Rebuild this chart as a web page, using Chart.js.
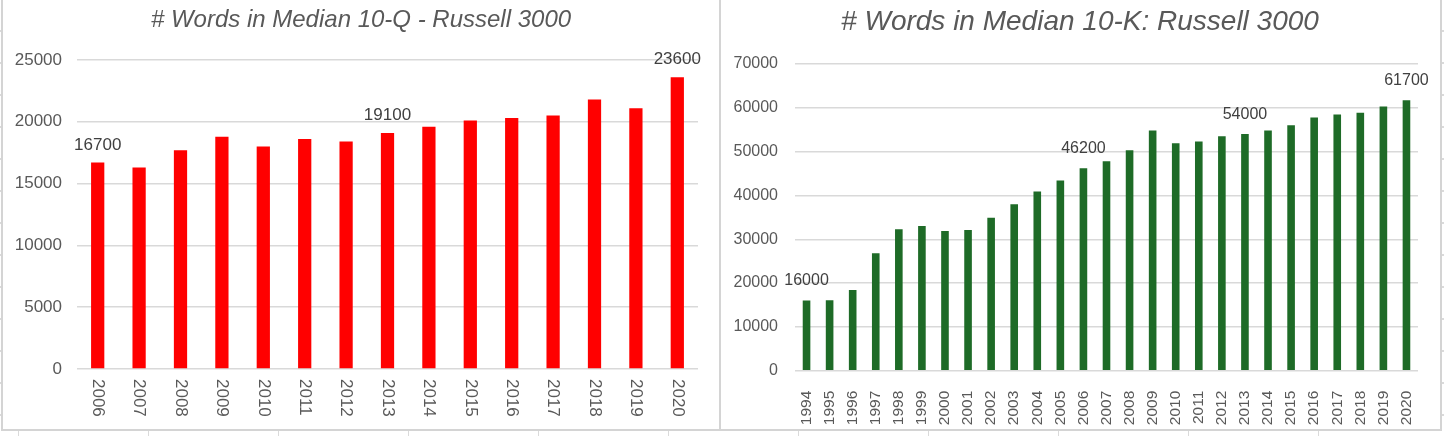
<!DOCTYPE html>
<html>
<head>
<meta charset="utf-8">
<script src="https://cdn.jsdelivr.net/npm/chart.js@4.4.1/dist/chart.umd.min.js"></script>
<style>
    html, body {
        margin: 0;
        padding: 0;
    }
    body {
        width: 1444px;
        height: 436px;
        position: relative;
        overflow: hidden;
        background-color: #ffffff;
        /* spreadsheet cells behind the charts */
        background-image:
            repeating-linear-gradient(90deg, transparent 0 18px, #dadada 18px 19.5px, transparent 19.5px 130px),
            repeating-linear-gradient(180deg, transparent 0 30.5px, #dadada 30.5px 32px);
        background-size: 130px 436px, 1444px 32px;
    }
    .panel {
        position: absolute;
        box-sizing: border-box;
        background: #ffffff;
        border: 2px solid #d4d4d4;
    }
    .chart-box {
        position: absolute;
        top: 0;
        height: 430px;
    }
</style>
</head>
<body>
<div class="panel" style="left:1px; top:-2px; width:720px; height:433px;"></div>
<div class="panel" style="left:719px; top:-2px; width:723px; height:433px;"></div>

<div class="chart-box" style="left:3px; width:716px;"><canvas id="chart10Q"></canvas></div>
<div class="chart-box" style="left:721px; width:718px;"><canvas id="chart10K"></canvas></div>

<script>
// ==========================================
// DATA
// ==========================================
const years10Q = ['2006', '2007', '2008', '2009', '2010', '2011', '2012', '2013',
                  '2014', '2015', '2016', '2017', '2018', '2019', '2020'];
const words10Q = [16700, 16300, 17700, 18800, 18000, 18600, 18400, 19100,
                  19600, 20100, 20300, 20500, 21800, 21100, 23600];
const labeled10Q = ['2006', '2013', '2020'];
const ticks10Q = [0, 5000, 10000, 15000, 20000, 25000];

const years10K = ['1994', '1995', '1996', '1997', '1998', '1999', '2000', '2001', '2002',
                  '2003', '2004', '2005', '2006', '2007', '2008', '2009', '2010', '2011',
                  '2012', '2013', '2014', '2015', '2016', '2017', '2018', '2019', '2020'];
const words10K = [16000, 16100, 18400, 26800, 32300, 33000, 31900, 32100, 34900,
                  38000, 40900, 43400, 46200, 47800, 50300, 54800, 51900, 52300,
                  53500, 54000, 54800, 56000, 57800, 58500, 58900, 60300, 61700];
const labeled10K = ['1994', '2006', '2013', '2020'];
const ticks10K = [0, 10000, 20000, 30000, 40000, 50000, 60000, 70000];

const FONT = '"Liberation Sans", Arial, Helvetica, sans-serif';
const TEXT_GREY = '#595959';
const GRID_GREY = '#d9d9d9';

// ==========================================
// PLUGINS
// ==========================================
// value labels above selected bars
const valueLabels = {
    id: 'valueLabels',
    afterDatasetsDraw(chart, args, opts) {
        const ctx = chart.ctx;
        const meta = chart.getDatasetMeta(0);
        const values = chart.data.datasets[0].data;
        ctx.save();
        ctx.font = `${opts.size}px ${FONT}`;
        ctx.fillStyle = '#404040';
        ctx.textAlign = 'center';
        ctx.textBaseline = 'middle';
        chart.data.labels.forEach((year, i) => {
            if (!opts.years.includes(year)) return;
            const bar = meta.data[i];
            ctx.fillText(String(values[i]), bar.x, bar.y - opts.offset);
        });
        ctx.restore();
    }
};

// category labels reading top-to-bottom (Chart.js only rotates the other way)
const downLabels = {
    id: 'downLabels',
    afterDraw(chart, args, opts) {
        if (!opts.enabled) return;
        const ctx = chart.ctx;
        const xScale = chart.scales.x;
        ctx.save();
        ctx.font = `${opts.size}px ${FONT}`;
        ctx.fillStyle = TEXT_GREY;
        ctx.textAlign = 'left';
        ctx.textBaseline = 'middle';
        chart.data.labels.forEach((year, i) => {
            ctx.save();
            ctx.translate(xScale.getPixelForTick(i), chart.chartArea.bottom + opts.gap);
            ctx.rotate(Math.PI / 2);
            ctx.fillText(year, 0, 0);
            ctx.restore();
        });
        ctx.restore();
    }
};

// ==========================================
// CHART BUILDER
// ==========================================
function buildBarChart(canvasId, cfg) {
    const canvas = document.getElementById(canvasId);
    return new Chart(canvas.getContext('2d'), {
        type: 'bar',
        data: {
            labels: cfg.labels,
            datasets: [{
                data: cfg.values,
                backgroundColor: cfg.color,
                borderWidth: 0,
                barPercentage: cfg.barPct,
                categoryPercentage: 1
            }]
        },
        plugins: [valueLabels, downLabels],
        options: {
            responsive: true,
            maintainAspectRatio: false,
            animation: false,
            layout: { padding: 0 },
            scales: {
                x: {
                    grid: { display: false },
                    border: { display: false },
                    ticks: {
                        display: !cfg.downLabels,
                        autoSkip: false,
                        minRotation: 90,
                        maxRotation: 90,
                        padding: cfg.xPad,
                        color: TEXT_GREY,
                        font: { family: FONT, size: cfg.xFont }
                    },
                    afterFit: scale => { scale.height = cfg.xHeight; }
                },
                y: {
                    min: 0,
                    max: cfg.ticks[cfg.ticks.length - 1],
                    afterBuildTicks: scale => {
                        scale.ticks = cfg.ticks.map(v => ({ value: v }));
                    },
                    grid: { color: GRID_GREY, lineWidth: 1.5, drawTicks: false },
                    border: { display: false },
                    ticks: {
                        padding: cfg.yPad,
                        color: TEXT_GREY,
                        font: { family: FONT, size: cfg.yFont },
                        callback: v => String(v)
                    },
                    afterFit: scale => { scale.width = 74; }
                },
                // empty right-hand box: leaves the margin without shifting the title
                spacer: {
                    type: 'linear',
                    position: 'right',
                    grid: { display: false },
                    border: { display: false },
                    ticks: { display: false },
                    afterFit: scale => { scale.width = 21; }
                }
            },
            plugins: {
                legend: { display: false },
                tooltip: { enabled: false },
                title: {
                    display: true,
                    text: cfg.title,
                    color: TEXT_GREY,
                    font: { family: FONT, size: cfg.titleSize, style: 'italic', weight: 'normal' },
                    padding: cfg.titlePad
                },
                valueLabels: { years: cfg.labeled, size: cfg.labelFont, offset: cfg.labelOffset },
                downLabels: { enabled: cfg.downLabels, size: cfg.xFont, gap: 10 }
            }
        }
    });
}

buildBarChart('chart10Q', {
    title: '# Words in Median 10-Q - Russell 3000',
    labels: years10Q,
    values: words10Q,
    labeled: labeled10Q,
    ticks: ticks10Q,
    color: '#ff0000',
    barPct: 0.32,
    titleSize: 24,
    titlePad: { top: 5.6, bottom: 25.6 },
    xHeight: 61,
    xPad: 10,
    xFont: 17,
    yFont: 17,
    yPad: 15,
    labelFont: 17,
    labelOffset: 17.5,
    downLabels: true
});

buildBarChart('chart10K', {
    title: '# Words in Median 10-K: Russell 3000',
    labels: years10K,
    values: words10K,
    labeled: labeled10K,
    ticks: ticks10K,
    color: '#1e6b27',
    barPct: 0.33,
    titleSize: 28,
    titlePad: { top: 5.2, bottom: 25.2 },
    xHeight: 59.3,
    xPad: 12,
    xFont: 15.5,
    yFont: 16,
    yPad: 17,
    labelFont: 16,
    labelOffset: 20,
    downLabels: false
});
</script>
</body>
</html>
